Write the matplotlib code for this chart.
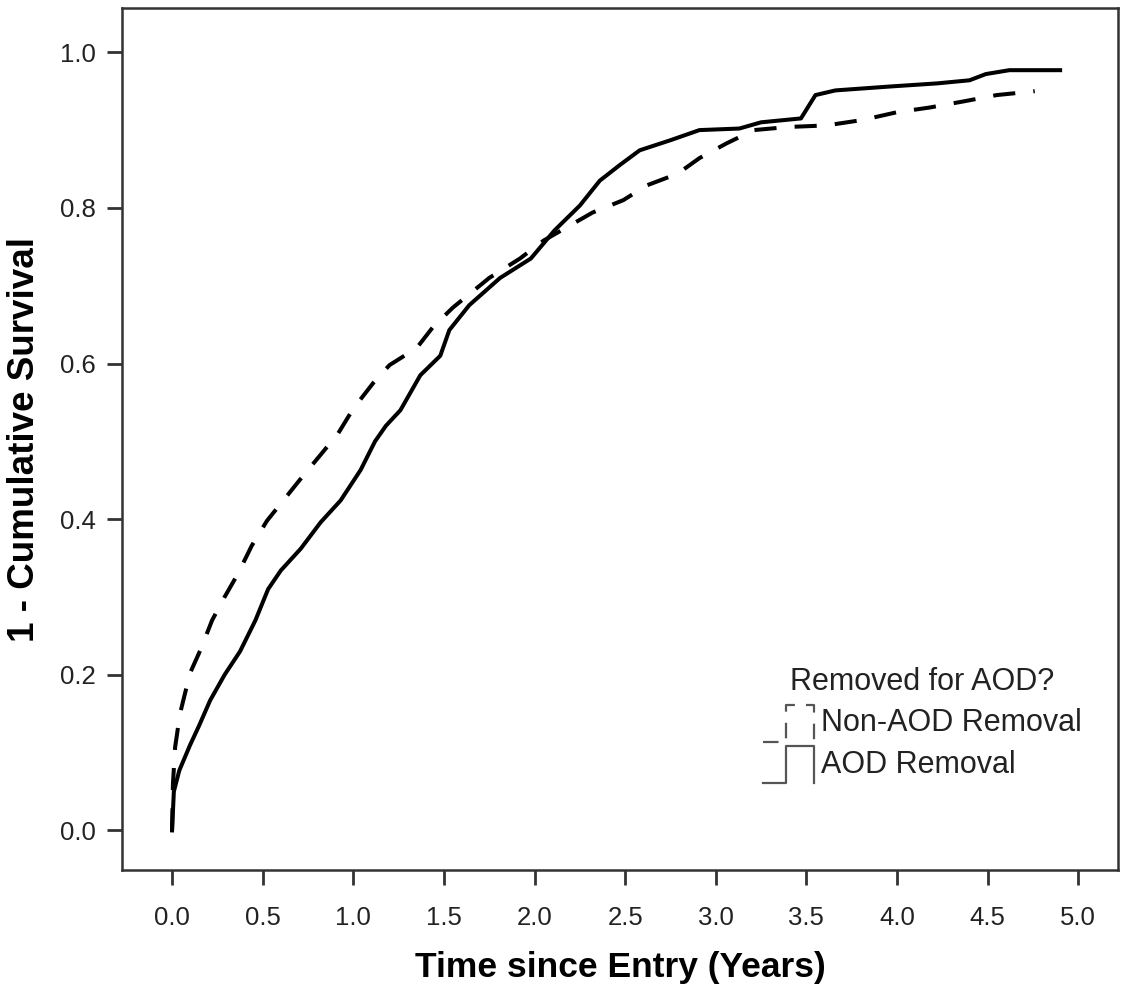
import matplotlib
matplotlib.use('Agg')
import matplotlib.pyplot as plt
from matplotlib.lines import Line2D
from matplotlib.legend_handler import HandlerBase

plt.rcParams['font.family'] = ['Liberation Sans', 'DejaVu Sans']

# AOD Removal (solid)
aod_t = [0.0, 0.01, 0.04, 0.10, 0.15, 0.21, 0.29, 0.375, 0.46, 0.53, 0.60, 0.71, 0.82, 0.93,
         1.04, 1.12, 1.18, 1.26, 1.37, 1.48, 1.53, 1.64, 1.81, 1.98, 2.11, 2.25, 2.36, 2.47,
         2.58, 2.75, 2.91, 3.13, 3.25, 3.47, 3.55, 3.66, 3.96, 4.22, 4.40, 4.49, 4.62, 4.90]
aod_s = [0.0, 0.05, 0.077, 0.11, 0.135, 0.167, 0.20, 0.23, 0.27, 0.31, 0.334, 0.362, 0.396, 0.424,
         0.463, 0.50, 0.52, 0.54, 0.585, 0.61, 0.643, 0.675, 0.71, 0.735, 0.771, 0.803, 0.835, 0.855,
         0.874, 0.887, 0.90, 0.902, 0.91, 0.915, 0.945, 0.951, 0.956, 0.96, 0.964, 0.972, 0.977, 0.977]

# Non-AOD Removal (dashed)
non_t = [0.0, 0.005, 0.017, 0.044, 0.099, 0.155, 0.221, 0.29, 0.364, 0.44, 0.524, 0.624, 0.717,
         0.817, 0.916, 1.0, 1.11, 1.20, 1.35, 1.44, 1.55, 1.75, 1.92, 2.05, 2.20, 2.32, 2.49,
         2.62, 2.79, 2.91, 3.06, 3.21, 3.40, 3.61, 3.81, 4.00, 4.18, 4.37, 4.55, 4.76]
non_s = [0.0, 0.06, 0.107, 0.15, 0.202, 0.231, 0.27, 0.30, 0.33, 0.366, 0.398, 0.427, 0.454,
         0.482, 0.51, 0.542, 0.575, 0.598, 0.62, 0.647, 0.672, 0.71, 0.735, 0.758, 0.778, 0.794, 0.81,
         0.829, 0.844, 0.864, 0.883, 0.90, 0.904, 0.906, 0.913, 0.923, 0.929, 0.937, 0.945, 0.95]

x_ticks = [0.0, 0.5, 1.0, 1.5, 2.0, 2.5, 3.0, 3.5, 4.0, 4.5, 5.0]
y_ticks = [0.0, 0.2, 0.4, 0.6, 0.8, 1.0]


class StepHandler(HandlerBase):
    # little step icon like the SPSS legend
    def create_artists(self, legend, orig_handle, xdescent, ydescent,
                       width, height, fontsize, trans):
        x0 = -xdescent
        y0 = -ydescent - 0.25 * height
        h = height * 1.35
        xs = [x0, x0 + 0.45 * width, x0 + 0.45 * width, x0 + width, x0 + width]
        ys = [y0, y0, y0 + h, y0 + h, y0]
        ln = Line2D(xs, ys, color='#555555', lw=1.6,
                    linestyle=orig_handle.get_linestyle())
        if orig_handle.get_linestyle() == '--':
            ln.set_dashes((7, 5))
        ln.set_transform(trans)
        return [ln]


fig = plt.figure(figsize=(11.34, 9.91), dpi=100)
ax = fig.add_axes([0.1076, 0.122, 0.8784, 0.870])

ax.plot(non_t, non_s, color='black', lw=2.9, dashes=(5.5, 4.5), label='Non-AOD Removal')
ax.plot(aod_t, aod_s, color='black', lw=2.9, label='AOD Removal')

ax.set_xlim(-0.276, 5.22)
ax.set_ylim(-0.051, 1.057)
ax.set_xticks(x_ticks)
ax.set_yticks(y_ticks)
ax.set_xticklabels(['%.1f' % v for v in x_ticks])
ax.set_yticklabels(['%.1f' % v for v in y_ticks])
ax.tick_params(axis='both', direction='out', length=11, width=2, color='#333333',
               labelsize=18.5, labelcolor='#222222', pad=8)
ax.tick_params(axis='x', pad=15)

for sp in ax.spines.values():
    sp.set_linewidth(1.8)
    sp.set_color('#333333')

ax.set_xlabel('Time since Entry (Years)', fontsize=25.5, fontweight='bold', labelpad=15)
ax.set_ylabel('1 - Cumulative Survival', fontsize=26.5, fontweight='bold', labelpad=13)

h_dash = Line2D([], [], linestyle='--')
h_solid = Line2D([], [], linestyle='-')
leg = ax.legend([h_dash, h_solid], ['Non-AOD Removal', 'AOD Removal'],
                handler_map={Line2D: StepHandler()},
                title='Removed for AOD?', title_fontsize=22, fontsize=22,
                frameon=False, loc='upper left', bbox_to_anchor=(0.643, 0.236),
                borderaxespad=0, borderpad=0, handlelength=1.7, handleheight=1.0,
                handletextpad=0.2, labelspacing=0.35)
for t in leg.get_texts():
    t.set_color('#222222')
leg.get_title().set_color('#222222')

fig.savefig('out.png', dpi=100)
